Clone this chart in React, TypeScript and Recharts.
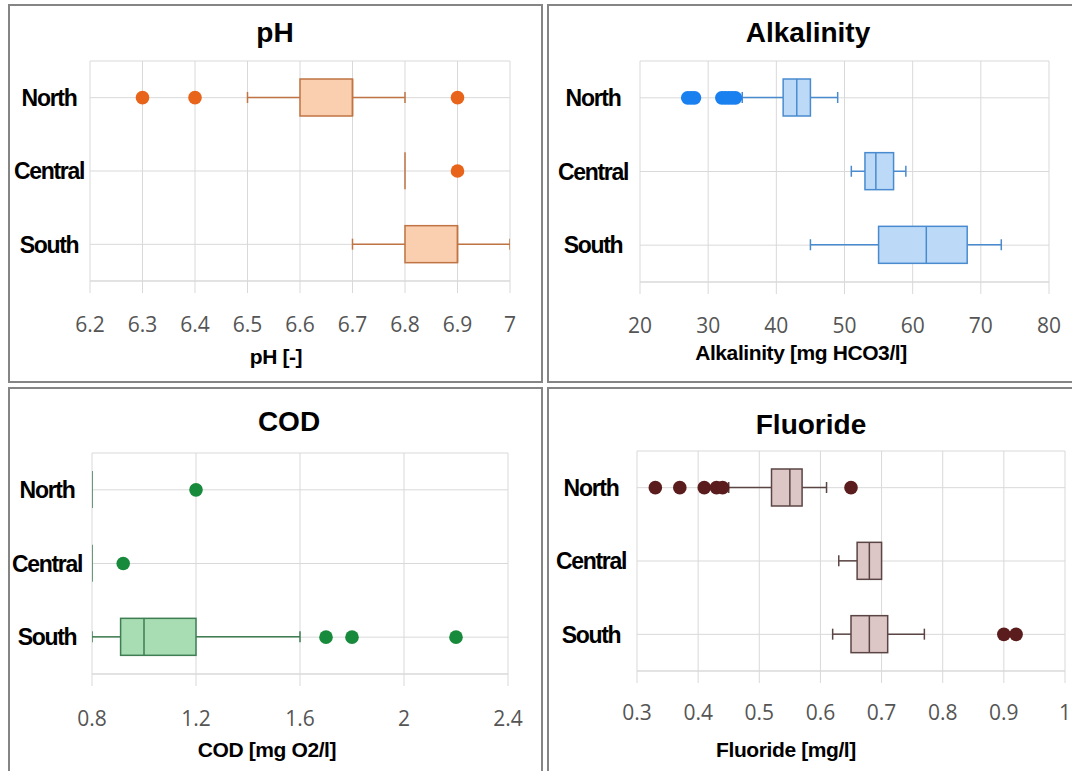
import React from "react";
import { ComposedChart, Bar, Scatter, XAxis, YAxis, CartesianGrid } from "recharts";

const categories = ["North", "Central", "South"];

// pH
const phMin = [6.5, 6.8, 6.7];
const phQ1 = [6.6, 6.8, 6.8];
const phMedian = [6.7, 6.8, 6.9];
const phQ3 = [6.7, 6.8, 6.9];
const phMax = [6.8, 6.8, 7.0];
const phOutliers: [string, number][] = [["North", 6.3], ["North", 6.4], ["North", 6.9], ["Central", 6.9]];
const phTicks = [6.2, 6.3, 6.4, 6.5, 6.6, 6.7, 6.8, 6.9, 7];

// Alkalinity
const alkMin = [35, 51, 45];
const alkQ1 = [41, 53, 55];
const alkMedian = [43, 54.6, 62];
const alkQ3 = [45, 57.2, 68];
const alkMax = [49, 59, 73];
const alkOutliers: [string, number][] = [
  ["North", 27], ["North", 27.5], ["North", 28],
  ["North", 32], ["North", 32.5], ["North", 33], ["North", 33.5], ["North", 34],
];
const alkTicks = [20, 30, 40, 50, 60, 70, 80];

// COD
const codMin = [0.8, 0.8, 0.8];
const codQ1 = [0.8, 0.8, 0.91];
const codMedian = [0.8, 0.8, 1.0];
const codQ3 = [0.8, 0.8, 1.2];
const codMax = [0.8, 0.8, 1.6];
const codOutliers: [string, number][] = [["North", 1.2], ["Central", 0.92], ["South", 1.7], ["South", 1.8], ["South", 2.2]];
const codTicks = [0.8, 1.2, 1.6, 2, 2.4];

// Fluoride
const fluMin = [0.45, 0.63, 0.62];
const fluQ1 = [0.52, 0.66, 0.65];
const fluMedian = [0.55, 0.68, 0.68];
const fluQ3 = [0.57, 0.7, 0.71];
const fluMax = [0.61, 0.7, 0.77];
const fluOutliers: [string, number][] = [
  ["North", 0.33], ["North", 0.37], ["North", 0.41], ["North", 0.43], ["North", 0.44], ["North", 0.65],
  ["South", 0.9], ["South", 0.92],
];
const fluTicks = [0.3, 0.4, 0.5, 0.6, 0.7, 0.8, 0.9, 1];

function buildRows(mins: number[], q1s: number[], meds: number[], q3s: number[], maxs: number[], outs: [string, number][]) {
  const boxes = categories.map((name, i) => ({
    name,
    range: [mins[i], maxs[i]],
    min: mins[i],
    q1: q1s[i],
    median: meds[i],
    q3: q3s[i],
    max: maxs[i],
  }));
  const pts = outs.map(([name, value]) => ({ name, value }));
  return [...boxes, ...pts];
}

const makeBox = (fill: string, stroke: string) => (props: any) => {
  const { x, y, width, height, payload } = props;
  if (!payload || payload.q1 == null || !Number.isFinite(x) || !Number.isFinite(y)) return <g />;
  const span = payload.max - payload.min;
  const px = (v: number) => (span > 0 ? x + ((v - payload.min) / span) * width : x);
  const cy = y + height / 2;
  const cap = 5.5;
  return (
    <g>
      {payload.min < payload.q1 && (
        <g>
          <line x1={px(payload.min)} x2={px(payload.q1)} y1={cy} y2={cy} stroke={stroke} strokeWidth={1.5} />
          <line x1={px(payload.min)} x2={px(payload.min)} y1={cy - cap} y2={cy + cap} stroke={stroke} strokeWidth={1.5} />
        </g>
      )}
      {payload.max > payload.q3 && (
        <g>
          <line x1={px(payload.q3)} x2={px(payload.max)} y1={cy} y2={cy} stroke={stroke} strokeWidth={1.5} />
          <line x1={px(payload.max)} x2={px(payload.max)} y1={cy - cap} y2={cy + cap} stroke={stroke} strokeWidth={1.5} />
        </g>
      )}
      <rect x={px(payload.q1)} y={y} width={px(payload.q3) - px(payload.q1)} height={height} fill={fill} stroke={stroke} strokeWidth={1.5} />
      <line x1={px(payload.median)} x2={px(payload.median)} y1={y} y2={y + height} stroke={stroke} strokeWidth={1.5} />
    </g>
  );
};

const makeDot = (color: string) => (p: any) =>
  Number.isFinite(p.cx) && Number.isFinite(p.cy) ? <circle cx={p.cx} cy={p.cy} r={6.8} fill={color} /> : <g />;

const CatTick = (props: any) => {
  const { y, payload, labelX } = props;
  return (
    <text x={labelX} y={y} dy="0.36em" textAnchor="middle" fontFamily="'Liberation Sans', Arial, sans-serif"
      fontWeight="bold" fontSize={23} letterSpacing={-1.3} fill="#000">
      {payload.value}
    </text>
  );
};

const HEAD = "'Liberation Sans', Arial, sans-serif";

function Panel(p: any) {
  const rows = buildRows(p.mins, p.q1s, p.meds, p.q3s, p.maxs, p.outs);
  return (
    <>
      <div style={{ position: "absolute", left: p.left, top: p.top, width: p.width, height: p.boxH, border: "2px solid #858585", boxSizing: "border-box" }} />
      <div style={{ position: "absolute", left: p.left, top: p.top }}>
        <ComposedChart width={p.width} height={p.height} data={rows} layout="vertical"
          margin={{ top: p.mTop, right: p.mRight, bottom: p.mBottom, left: 0 }}>
          <CartesianGrid stroke="#d9d9d9" strokeWidth={1} />
          <XAxis type="number" domain={[p.ticks[0], p.ticks[p.ticks.length - 1]]} ticks={p.ticks} interval={0}
            allowDataOverflow height={60} axisLine={{ stroke: "#d9d9d9" }} tickLine={{ stroke: "#d9d9d9" }}
            tickSize={12} tickMargin={p.tickMargin}
            tick={{ fill: "#555", fontSize: 21, fontFamily: "'Open Sans', sans-serif" }} />
          <YAxis type="category" dataKey="name" allowDuplicatedCategory={false} width={p.yAxisW}
            axisLine={false} tickLine={false} tick={(t: any) => <CatTick {...t} labelX={p.labelX} />} />
          <Bar dataKey="range" barSize={37} shape={makeBox(p.fill, p.stroke)} isAnimationActive={false} />
          <Scatter dataKey="value" fill={p.dot} shape={makeDot(p.dot)} isAnimationActive={false} />
        </ComposedChart>
      </div>
      <div style={{ position: "absolute", left: p.titleX - 200, width: 400, top: p.titleY - 14, textAlign: "center",
        fontFamily: HEAD, fontWeight: "bold", fontSize: 28, lineHeight: "28px", color: "#000" }}>{p.title}</div>
      <div style={{ position: "absolute", left: p.axisX - 200, width: 400, top: p.axisY - 10, textAlign: "center",
        fontFamily: HEAD, fontWeight: "bold", fontSize: 21, lineHeight: "21px", letterSpacing: -0.4, color: "#000" }}>{p.axisTitle}</div>
    </>
  );
}

export default function App() {
  return (
    <div style={{ position: "absolute", left: 0, top: 0, width: 1072, height: 771, overflow: "hidden", background: "#fff" }}>
      <Panel title="pH" axisTitle="pH [-]" mins={phMin} q1s={phQ1} meds={phMedian} q3s={phQ3} maxs={phMax}
        outs={phOutliers} ticks={phTicks} fill="#f9cfb0" stroke="#c07444" dot="#e8641a"
        left={8} top={4} width={535} height={379} boxH={379} yAxisW={82} mTop={57} mRight={33} mBottom={42}
        tickMargin={24} labelX={41} titleX={275} titleY={33} axisX={276} axisY={356} />
      <Panel title="Alkalinity" axisTitle="Alkalinity [mg HCO3/l]" mins={alkMin} q1s={alkQ1} meds={alkMedian} q3s={alkQ3} maxs={alkMax}
        outs={alkOutliers} ticks={alkTicks} fill="#bcdaf7" stroke="#4a8bd0" dot="#1a80f0"
        left={547} top={4} width={540} height={379} boxH={379} yAxisW={93} mTop={57} mRight={38} mBottom={41}
        tickMargin={24} labelX={46} titleX={808} titleY={33} axisX={801} axisY={352} />
      <Panel title="COD" axisTitle="COD [mg O2/l]" mins={codMin} q1s={codQ1} meds={codMedian} q3s={codQ3} maxs={codMax}
        outs={codOutliers} ticks={codTicks} fill="#a8dcb2" stroke="#3e7e52" dot="#188a3c"
        left={8} top={387} width={535} height={384} boxH={400} yAxisW={84} mTop={66} mRight={35} mBottom={37}
        tickMargin={25} labelX={39} titleX={289} titleY={422} axisX={267} axisY={749} />
      <Panel title="Fluoride" axisTitle="Fluoride [mg/l]" mins={fluMin} q1s={fluQ1} meds={fluMedian} q3s={fluQ3} maxs={fluMax}
        outs={fluOutliers} ticks={fluTicks} fill="#dcc6c6" stroke="#5b4444" dot="#5a1c1c"
        left={547} top={387} width={540} height={384} boxH={400} yAxisW={90} mTop={64} mRight={22} mBottom={40}
        tickMargin={22} labelX={44} titleX={811} titleY={425} axisX={786} axisY={749} />
    </div>
  );
}
